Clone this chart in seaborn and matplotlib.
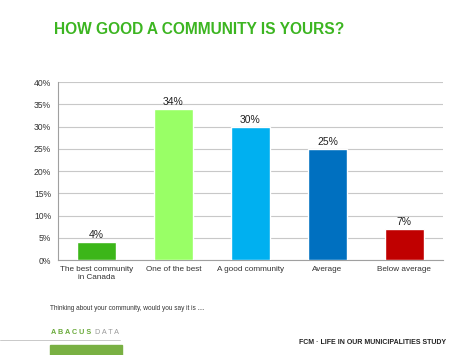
import matplotlib
matplotlib.use("Agg")
import matplotlib.pyplot as plt
import seaborn as sns
import pandas as pd
import numpy as np

categories = ["The best community\nin Canada", "One of the best", "A good community",
              "Average", "Below average"]
values = [4, 34, 30, 25, 7]
colors = ["#3cb619", "#99ff66", "#00b0f0", "#0070c0", "#c00000"]
y_ticks = [0, 5, 10, 15, 20, 25, 30, 35, 40]

sns.set_style("white")
plt.rcParams['font.family'] = ['Liberation Sans', 'DejaVu Sans']

df = pd.DataFrame({"cat": categories, "val": values})

fig = plt.figure(figsize=(4.74, 3.55), dpi=100)
ax = fig.add_axes([0.1224, 0.2676, 0.812, 0.5014])

sns.barplot(data=df, x="cat", y="val", hue="cat", palette=colors, legend=False,
            width=0.5, saturation=1, ax=ax, zorder=3)

for i, v in enumerate(values):
    ax.text(i, v + 0.4, f"{v}%", ha="center", va="bottom", fontsize=7.5, color="#222222")

ax.set_ylim(0, 40)
ax.set_xlim(-0.5, 4.5)
ax.set_yticks(y_ticks)
ax.set_yticklabels([f"{t}%" for t in y_ticks], fontsize=6.2, color="#333333")
ax.tick_params(axis="x", labelsize=5.9, labelcolor="#333333", length=0, pad=4)
ax.set_xticks(np.arange(-0.5, 5, 1.0), minor=True)
ax.tick_params(axis="x", which="minor", length=3, color="#a0a0a0", width=0.8)
ax.tick_params(axis="y", length=3, color="#a0a0a0", width=0.8, pad=2)
ax.set_xlabel("")
ax.set_ylabel("")
ax.grid(axis="y", color="#c8c8c8", linewidth=0.8, zorder=0)
for s in ["top", "right"]:
    ax.spines[s].set_visible(False)
for s in ["left", "bottom"]:
    ax.spines[s].set_color("#a0a0a0")
    ax.spines[s].set_linewidth(0.8)

fig.text(54 / 474, 1 - 30 / 355, "HOW GOOD A COMMUNITY IS YOURS?", fontsize=11.2,
         fontweight="bold", color="#3cb521", va="center", ha="left")
fig.text(50 / 474, 1 - 308 / 355, "Thinking about your community, would you say it is ....",
         fontsize=4.7, color="#333333", va="center", ha="left")
fig.text(51 / 474, 1 - 333 / 355, "A B A C U S", fontsize=5.2, color="#6aaa3a",
         fontweight="bold", va="center", ha="left")
fig.text(95 / 474, 1 - 333 / 355, "D A T A", fontsize=5.2, color="#9a9a9a",
         va="center", ha="left")
fig.add_artist(plt.Line2D([0, 120 / 474], [1 - 340 / 355] * 2, color="#c0c0c0", lw=0.6))
fig.add_artist(plt.Rectangle((50 / 474, 0), 72 / 474, 10 / 355, color="#79b043"))
fig.text(446 / 474, 1 - 343 / 355, "FCM · LIFE IN OUR MUNICIPALITIES STUDY", fontsize=5.0,
         fontweight="bold", color="#222222", va="center", ha="right")

fig.savefig("out.png", dpi=100)
